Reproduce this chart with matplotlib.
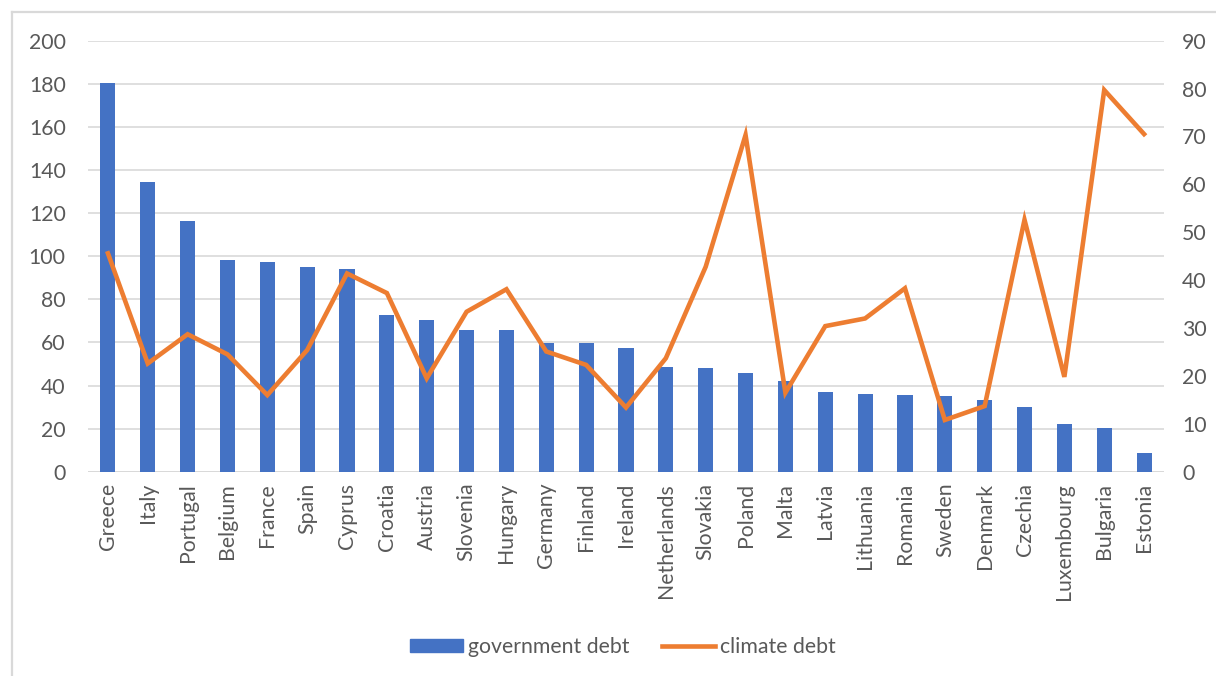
import matplotlib
matplotlib.use("Agg")
import matplotlib.pyplot as plt
from matplotlib.lines import Line2D
import numpy as np

plt.rcParams["font.family"] = ["Lato", "DejaVu Sans"]

# debt figures per EU member state
countries = ["Greece", "Italy", "Portugal", "Belgium", "France", "Spain", "Cyprus",
             "Croatia", "Austria", "Slovenia", "Hungary", "Germany", "Finland",
             "Ireland", "Netherlands", "Slovakia", "Poland", "Malta", "Latvia",
             "Lithuania", "Romania", "Sweden", "Denmark", "Czechia", "Luxembourg",
             "Bulgaria", "Estonia"]
government_debt = [180.2, 134.6, 116.5, 98.1, 97.5, 95.1, 94.1,
                   72.7, 70.4, 65.8, 65.8, 59.9, 59.9,
                   57.4, 48.6, 48.0, 45.7, 42.1, 36.8,
                   36.2, 35.6, 35.0, 33.3, 30.2, 22.0,
                   20.3, 8.5]
climate_debt = [45.6, 22.6, 28.7, 24.5, 16.0, 25.4, 41.4,
                37.3, 19.5, 33.4, 38.1, 25.1, 22.3,
                13.4, 23.7, 42.8, 70.3, 16.5, 30.4,
                32.0, 38.3, 10.8, 13.7, 52.6, 19.8,
                79.7, 70.5]

BLUE = "#4472C4"
ORANGE = "#ED7D31"
GRID = "#D9D9D9"
TEXT = "#595959"
FS = 15.3

fig = plt.figure(figsize=(12.16, 6.76), dpi=100)
ax = fig.add_axes([88 / 1216, 1 - 471.7 / 676, (1164 - 88) / 1216, (471.7 - 40.7) / 676])
ax2 = ax.twinx()

x = np.arange(len(countries))
ax.bar(x, government_debt, width=0.38, color=BLUE, zorder=2)
ax2.plot(x, climate_debt, color=ORANGE, linewidth=3.3, solid_joinstyle="miter", zorder=3)

ax.set_xlim(-0.5, len(countries) - 0.5)
ax.set_ylim(0, 200)
ax.set_yticks(np.arange(0, 201, 20))
ax2.set_ylim(0, 90)
ax2.set_yticks(np.arange(0, 91, 10))

ax.set_xticks(x)
ax.set_xticklabels(countries, rotation=90)
ax.yaxis.grid(True, color=GRID, linewidth=1.2, zorder=0)
ax.set_axisbelow(True)

for a in (ax, ax2):
    for s in a.spines.values():
        s.set_visible(False)
ax.tick_params(axis="both", length=0, labelsize=FS, labelcolor=TEXT)
ax.tick_params(axis="y", pad=16)
ax.tick_params(axis="x", pad=8)
ax2.tick_params(axis="y", length=0, labelsize=FS, labelcolor=TEXT, pad=13)

# bottom axis line
ax.axhline(0, color=GRID, linewidth=1.4, zorder=1)

handles = [plt.Rectangle((0, 0), 1, 1, color=BLUE),
           Line2D([0], [0], color=ORANGE, linewidth=3.3)]
fig.legend(handles, ["government debt", "climate debt"], loc="center",
           bbox_to_anchor=(623 / 1216, 1 - 647 / 676), ncol=2, frameon=False,
           fontsize=FS, labelcolor=TEXT, handlelength=2.5, handleheight=0.6,
           handletextpad=0.25, columnspacing=1.5)

# light frame around the chart area (left and top edges)
fig.add_artist(Line2D([11.5 / 1216, 11.5 / 1216], [0, 1 - 12.3 / 676],
                      color="#D9D9D9", linewidth=1.6, transform=fig.transFigure))
fig.add_artist(Line2D([11.5 / 1216, 1], [1 - 12.3 / 676, 1 - 12.3 / 676],
                      color="#D9D9D9", linewidth=1.6, transform=fig.transFigure))

fig.savefig("out.png", dpi=100)
